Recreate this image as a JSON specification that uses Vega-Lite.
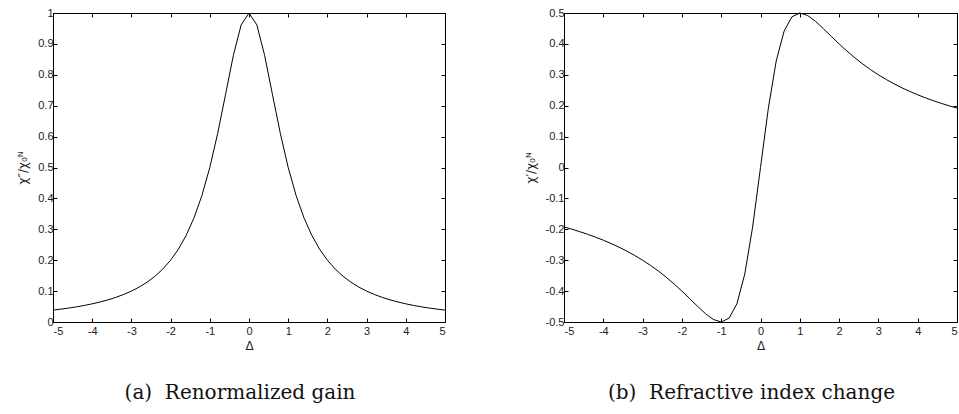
{
  "$schema": "https://vega.github.io/schema/vega-lite/v6.json",
  "padding": {"left": 16, "top": 6, "right": 0, "bottom": 0},
  "background": "white",
  "datasets": {
    "curves": [
      {"d": -5.0, "gain": 0.0385, "index": -0.1923},
      {"d": -4.8, "gain": 0.0416, "index": -0.1997},
      {"d": -4.6, "gain": 0.0451, "index": -0.2076},
      {"d": -4.4, "gain": 0.0491, "index": -0.2161},
      {"d": -4.2, "gain": 0.0536, "index": -0.2253},
      {"d": -4.0, "gain": 0.0588, "index": -0.2353},
      {"d": -3.8, "gain": 0.0648, "index": -0.2461},
      {"d": -3.6, "gain": 0.0716, "index": -0.2579},
      {"d": -3.4, "gain": 0.0796, "index": -0.2707},
      {"d": -3.2, "gain": 0.0890, "index": -0.2847},
      {"d": -3.0, "gain": 0.1000, "index": -0.3000},
      {"d": -2.8, "gain": 0.1131, "index": -0.3167},
      {"d": -2.6, "gain": 0.1289, "index": -0.3351},
      {"d": -2.4, "gain": 0.1479, "index": -0.3550},
      {"d": -2.2, "gain": 0.1712, "index": -0.3767},
      {"d": -2.0, "gain": 0.2000, "index": -0.4000},
      {"d": -1.8, "gain": 0.2358, "index": -0.4245},
      {"d": -1.6, "gain": 0.2809, "index": -0.4494},
      {"d": -1.4, "gain": 0.3378, "index": -0.4730},
      {"d": -1.2, "gain": 0.4098, "index": -0.4918},
      {"d": -1.0, "gain": 0.5000, "index": -0.5000},
      {"d": -0.8, "gain": 0.6098, "index": -0.4878},
      {"d": -0.6, "gain": 0.7353, "index": -0.4412},
      {"d": -0.4, "gain": 0.8621, "index": -0.3448},
      {"d": -0.2, "gain": 0.9615, "index": -0.1923},
      {"d": 0.0, "gain": 1.0000, "index": 0.0000},
      {"d": 0.2, "gain": 0.9615, "index": 0.1923},
      {"d": 0.4, "gain": 0.8621, "index": 0.3448},
      {"d": 0.6, "gain": 0.7353, "index": 0.4412},
      {"d": 0.8, "gain": 0.6098, "index": 0.4878},
      {"d": 1.0, "gain": 0.5000, "index": 0.5000},
      {"d": 1.2, "gain": 0.4098, "index": 0.4918},
      {"d": 1.4, "gain": 0.3378, "index": 0.4730},
      {"d": 1.6, "gain": 0.2809, "index": 0.4494},
      {"d": 1.8, "gain": 0.2358, "index": 0.4245},
      {"d": 2.0, "gain": 0.2000, "index": 0.4000},
      {"d": 2.2, "gain": 0.1712, "index": 0.3767},
      {"d": 2.4, "gain": 0.1479, "index": 0.3550},
      {"d": 2.6, "gain": 0.1289, "index": 0.3351},
      {"d": 2.8, "gain": 0.1131, "index": 0.3167},
      {"d": 3.0, "gain": 0.1000, "index": 0.3000},
      {"d": 3.2, "gain": 0.0890, "index": 0.2847},
      {"d": 3.4, "gain": 0.0796, "index": 0.2707},
      {"d": 3.6, "gain": 0.0716, "index": 0.2579},
      {"d": 3.8, "gain": 0.0648, "index": 0.2461},
      {"d": 4.0, "gain": 0.0588, "index": 0.2353},
      {"d": 4.2, "gain": 0.0536, "index": 0.2253},
      {"d": 4.4, "gain": 0.0491, "index": 0.2161},
      {"d": 4.6, "gain": 0.0451, "index": 0.2076},
      {"d": 4.8, "gain": 0.0416, "index": 0.1997},
      {"d": 5.0, "gain": 0.0385, "index": 0.1923}
    ]
  },
  "data": {"name": "curves"},
  "config": {
    "view": {"stroke": "black", "strokeWidth": 1},
    "axis": {
      "grid": false,
      "domainColor": "black",
      "tickColor": "black",
      "tickSize": -4,
      "labelFont": "Liberation Sans",
      "labelFontSize": 11,
      "labelColor": "#222",
      "labelPadding": 7,
      "titleFont": "DejaVu Sans",
      "titleFontSize": 12,
      "titleFontWeight": "normal",
      "titleColor": "#222"
    },
    "title": {
      "font": "DejaVu Serif",
      "fontSize": 20,
      "fontWeight": "normal",
      "color": "#111",
      "orient": "bottom",
      "anchor": "middle",
      "offset": 32,
      "dx": -9
    }
  },
  "spacing": 75,
  "hconcat": [
    {
      "width": 392,
      "height": 309,
      "title": "(a)\u00a0 Renormalized gain",
      "resolve": {"axis": {"x": "independent", "y": "independent"}},
      "layer": [
        {
          "mark": {"type": "line", "color": "black", "strokeWidth": 1},
          "encoding": {
            "x": {"field": "d", "type": "quantitative", "scale": {"domain": [-5, 5], "nice": false},
                  "axis": {"orient": "bottom", "title": "Δ", "titlePadding": 4, "values": [-5,-4,-3,-2,-1,0,1,2,3,4,5],
                           "labelExpr": "replace(format(datum.value, '~g'), '\u2212', '-')"}},
            "y": {"field": "gain", "type": "quantitative", "scale": {"domain": [0, 1], "nice": false},
                  "axis": {"orient": "left", "title": "χ″/χ₀ᴺ", "titlePadding": 8, "labelPadding": 4, "values": [0,0.1,0.2,0.3,0.4,0.5,0.6,0.7,0.8,0.9,1],
                           "labelExpr": "replace(format(datum.value, '~g'), '\u2212', '-')"}}
          }
        },
        {
          "mark": {"type": "line", "opacity": 0},
          "encoding": {
            "x": {"field": "d", "type": "quantitative", "scale": {"domain": [-5, 5], "nice": false},
                  "axis": {"orient": "top", "title": null, "labels": false, "values": [-5,-4,-3,-2,-1,0,1,2,3,4,5]}},
            "y": {"field": "gain", "type": "quantitative", "scale": {"domain": [0, 1], "nice": false},
                  "axis": {"orient": "right", "title": null, "labels": false, "values": [0,0.1,0.2,0.3,0.4,0.5,0.6,0.7,0.8,0.9,1]}}
          }
        }
      ]
    },
    {
      "width": 393,
      "height": 309,
      "title": "(b)\u00a0 Refractive index change",
      "resolve": {"axis": {"x": "independent", "y": "independent"}},
      "layer": [
        {
          "mark": {"type": "line", "color": "black", "strokeWidth": 1},
          "encoding": {
            "x": {"field": "d", "type": "quantitative", "scale": {"domain": [-5, 5], "nice": false},
                  "axis": {"orient": "bottom", "title": "Δ", "titlePadding": 4, "values": [-5,-4,-3,-2,-1,0,1,2,3,4,5],
                           "labelExpr": "replace(format(datum.value, '~g'), '\u2212', '-')"}},
            "y": {"field": "index", "type": "quantitative", "scale": {"domain": [-0.5, 0.5], "nice": false},
                  "axis": {"orient": "left", "title": "χ′/χ₀ᴺ", "titlePadding": 8, "labelPadding": 4, "values": [-0.5,-0.4,-0.3,-0.2,-0.1,0,0.1,0.2,0.3,0.4,0.5],
                           "labelExpr": "replace(format(datum.value, '~g'), '\u2212', '-')"}}
          }
        },
        {
          "mark": {"type": "line", "opacity": 0},
          "encoding": {
            "x": {"field": "d", "type": "quantitative", "scale": {"domain": [-5, 5], "nice": false},
                  "axis": {"orient": "top", "title": null, "labels": false, "values": [-5,-4,-3,-2,-1,0,1,2,3,4,5]}},
            "y": {"field": "index", "type": "quantitative", "scale": {"domain": [-0.5, 0.5], "nice": false},
                  "axis": {"orient": "right", "title": null, "labels": false, "values": [-0.5,-0.4,-0.3,-0.2,-0.1,0,0.1,0.2,0.3,0.4,0.5]}}
          }
        }
      ]
    }
  ]
}
